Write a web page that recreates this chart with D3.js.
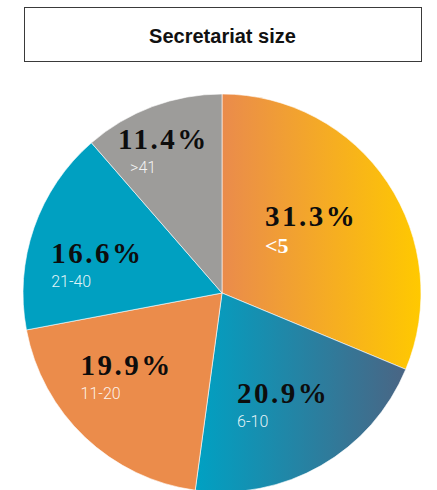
<!DOCTYPE html>
<html>
<head>
<meta charset="utf-8">
<script src="https://cdn.jsdelivr.net/npm/d3@7"></script>
<style>
  html, body { margin: 0; padding: 0; background: #fff; }
  svg { display: block; }
</style>
</head>
<body>
<svg id="chart" width="437" height="490"></svg>
<script>
// Secretariat size distribution
const categories = ["<5", "6-10", "11-20", "21-40", ">41"];
const shares = [31.3, 20.9, 19.9, 16.6, 11.4];
const shareLabels = ["31.3%", "20.9%", "19.9%", "16.6%", "11.4%"];
const title = "Secretariat size";

const width = 437, height = 490;
const cx = 222, cy = 293, radius = 199;

const svg = d3.select("#chart");
const defs = svg.append("defs");

// Horizontal gradients for the two largest slices
const gradients = {
  "<5": ["#ea8b4c", "#ffc900"],
  "6-10": ["#00a1c3", "#4a6584"]
};
Object.entries(gradients).forEach(([key, [c0, c1]], i) => {
  const g = defs.append("linearGradient")
    .attr("id", "grad" + i)
    .attr("x1", 0).attr("y1", 0).attr("x2", 1).attr("y2", 0);
  g.append("stop").attr("offset", "0%").attr("stop-color", c0);
  g.append("stop").attr("offset", "100%").attr("stop-color", c1);
  gradients[key] = "url(#grad" + i + ")";
});

const color = d3.scaleOrdinal()
  .domain(categories)
  .range([gradients["<5"], gradients["6-10"], "#eb8c4b", "#00a0c1", "#9d9c9a"]);

// Title box
svg.append("rect")
  .attr("x", 24.5).attr("y", 7.5)
  .attr("width", 397).attr("height", 54)
  .attr("fill", "#fff")
  .attr("stroke", "#3a3a3a")
  .attr("stroke-width", 1);
svg.append("text")
  .attr("x", 222.5).attr("y", 43)
  .attr("text-anchor", "middle")
  .attr("font-family", "'Liberation Sans', Arial, sans-serif")
  .attr("font-weight", "bold")
  .attr("font-size", 20)
  .attr("fill", "#111")
  .text(title);

const pie = d3.pie().sort(null).value(d => d.value);
const data = pie(categories.map((c, i) => ({ cat: c, value: shares[i], label: shareLabels[i] })));

const arc = d3.arc().innerRadius(0).outerRadius(radius);

const g = svg.append("g").attr("transform", `translate(${cx},${cy})`);

g.selectAll("path.slice")
  .data(data)
  .join("path")
  .attr("class", "slice")
  .attr("d", arc)
  .attr("fill", d => color(d.data.cat))
  .attr("stroke", "#fff")
  .attr("stroke-width", 0.6);

// Label placement: radius along each slice's mid angle, with small nudges
const labelRadius = { "<5": 118, "6-10": 119, "11-20": 121, "21-40": 131, ">41": 163 };
const labelNudge = { "<5": [-9, -10], "6-10": [2, -1], "11-20": [-12, -14], "21-40": [-1, 5], ">41": [-1.5, 1] };
const subIndent = { ">41": 12 };

data.forEach(d => {
  const cat = d.data.cat;
  const r = labelRadius[cat];
  const a = (d.startAngle + d.endAngle) / 2;
  const px = Math.sin(a) * r + labelNudge[cat][0];
  const py = -Math.cos(a) * r + labelNudge[cat][1];

  const pct = g.append("text")
    .attr("x", px).attr("y", py + 8)
    .attr("text-anchor", "middle")
    .attr("font-family", "'Liberation Serif', 'Times New Roman', serif")
    .attr("font-weight", "bold")
    .attr("font-size", 29)
    .attr("letter-spacing", 2.5)
    .attr("fill", "#0d0d0d")
    .text(d.data.label);

  const bb = pct.node().getBBox();
  const left = bb.x + (subIndent[cat] || 0);

  if (cat === "<5") {
    g.append("text")
      .attr("x", left).attr("y", py + 35)
      .attr("font-family", "'Liberation Serif', 'Times New Roman', serif")
      .attr("font-weight", "bold")
      .attr("font-size", 22)
      .attr("fill", "#fff")
      .text(cat);
  } else {
    g.append("text")
      .attr("x", left).attr("y", py + 32)
      .attr("font-family", "Roboto, 'Liberation Sans', sans-serif")
      .attr("font-weight", 300)
      .attr("font-size", 16)
      .attr("fill", "#fff")
      .attr("fill-opacity", 0.9)
      .text(cat);
  }
});
</script>
</body>
</html>
